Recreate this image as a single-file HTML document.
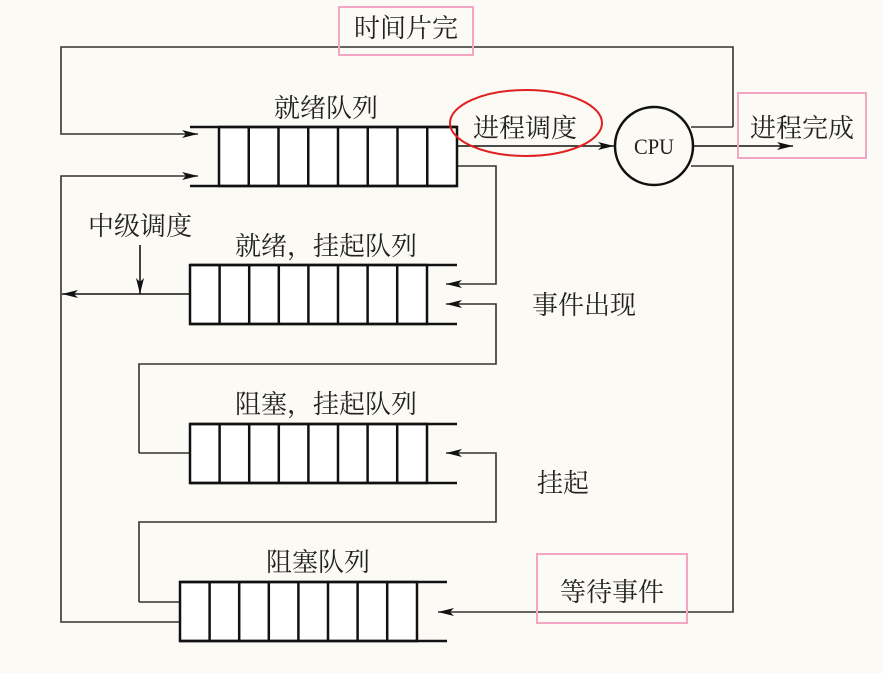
<!DOCTYPE html>
<html><head><meta charset="utf-8"><style>
html,body{margin:0;padding:0;background:#fcfaf5;}
svg{display:block;}
text{font-family:"Liberation Serif","Noto Serif CJK SC",serif;fill:#222;}
</style></head><body>
<svg width="883" height="673" viewBox="0 0 883 673" xmlns="http://www.w3.org/2000/svg">
<defs>
<marker id="ar" viewBox="0 0 16 8" refX="16" refY="4" markerWidth="16" markerHeight="8" markerUnits="userSpaceOnUse" orient="auto">
<path d="M0,0 L16,4 L0,8 L4,4 Z" fill="#111"/>
</marker>
</defs>
<g stroke="#333" stroke-width="1.6" fill="none">
<polyline points="733,127 733,47 61,47 61,134 198,134" marker-end="url(#ar)"/>
<line x1="691" y1="127" x2="733" y2="127"/>
<polyline points="180,622 61,622 61,176 198,176" marker-end="url(#ar)"/>
<polyline points="691,166 733,166 733,612 438,612" marker-end="url(#ar)"/>
<line x1="457" y1="146" x2="614" y2="146" stroke="#111" marker-end="url(#ar)"/>
<line x1="693" y1="146" x2="793" y2="146" stroke="#111" marker-end="url(#ar)"/>
<polyline points="457,166 496,166 496,284 446,284" marker-end="url(#ar)"/>
<polyline points="139,453 139,364 496,364 496,304 446,304" marker-end="url(#ar)"/>
<line x1="139" y1="453" x2="190" y2="453"/>
<polyline points="139,602 139,522 496,522 496,453 446,453" marker-end="url(#ar)"/>
<line x1="139" y1="602" x2="180" y2="602"/>
<polyline points="190,294 62,294" stroke="#111" marker-end="url(#ar)"/>
<line x1="140" y1="245" x2="140" y2="294" stroke="#111" marker-end="url(#ar)"/>
</g>
<g stroke="#111" stroke-width="2.5">
<rect x="219" y="127" width="238" height="59" fill="#fff"/>
<line x1="190" y1="127" x2="457" y2="127"/><line x1="190" y1="186" x2="457" y2="186"/>
<line x1="248.75" y1="127" x2="248.75" y2="186"/><line x1="278.5" y1="127" x2="278.5" y2="186"/><line x1="308.25" y1="127" x2="308.25" y2="186"/><line x1="338" y1="127" x2="338" y2="186"/><line x1="367.75" y1="127" x2="367.75" y2="186"/><line x1="397.5" y1="127" x2="397.5" y2="186"/><line x1="427.25" y1="127" x2="427.25" y2="186"/>
</g>
<g stroke="#111" stroke-width="2.5">
<rect x="190" y="265" width="237" height="59" fill="#fff"/>
<line x1="190" y1="265" x2="457" y2="265"/><line x1="190" y1="324" x2="457" y2="324"/>
<line x1="219.6" y1="265" x2="219.6" y2="324"/><line x1="249.2" y1="265" x2="249.2" y2="324"/><line x1="278.8" y1="265" x2="278.8" y2="324"/><line x1="308.4" y1="265" x2="308.4" y2="324"/><line x1="338" y1="265" x2="338" y2="324"/><line x1="367.6" y1="265" x2="367.6" y2="324"/><line x1="397.2" y1="265" x2="397.2" y2="324"/>
</g>
<g stroke="#111" stroke-width="2.5">
<rect x="190" y="424" width="237" height="59" fill="#fff"/>
<line x1="190" y1="424" x2="457" y2="424"/><line x1="190" y1="483" x2="457" y2="483"/>
<line x1="219.6" y1="424" x2="219.6" y2="483"/><line x1="249.2" y1="424" x2="249.2" y2="483"/><line x1="278.8" y1="424" x2="278.8" y2="483"/><line x1="308.4" y1="424" x2="308.4" y2="483"/><line x1="338" y1="424" x2="338" y2="483"/><line x1="367.6" y1="424" x2="367.6" y2="483"/><line x1="397.2" y1="424" x2="397.2" y2="483"/>
</g>
<g stroke="#111" stroke-width="2.5">
<rect x="180" y="582" width="237" height="59" fill="#fff"/>
<line x1="180" y1="582" x2="447" y2="582"/><line x1="180" y1="641" x2="447" y2="641"/>
<line x1="209.6" y1="582" x2="209.6" y2="641"/><line x1="239.2" y1="582" x2="239.2" y2="641"/><line x1="268.8" y1="582" x2="268.8" y2="641"/><line x1="298.4" y1="582" x2="298.4" y2="641"/><line x1="328" y1="582" x2="328" y2="641"/><line x1="357.6" y1="582" x2="357.6" y2="641"/><line x1="387.2" y1="582" x2="387.2" y2="641"/>
</g>
<circle cx="654" cy="146" r="39" fill="none" stroke="#111" stroke-width="2.5"/>
<text x="654" y="154" font-size="22" text-anchor="middle" textLength="40" lengthAdjust="spacingAndGlyphs">CPU</text>
<ellipse cx="526" cy="123" rx="76" ry="33" fill="none" stroke="#e02020" stroke-width="2"/>
<rect x="339" y="7" width="134" height="48" fill="none" stroke="#f3a6c4" stroke-width="2"/>
<rect x="738" y="93" width="128" height="65" fill="none" stroke="#f3a6c4" stroke-width="2"/>
<rect x="537" y="554" width="150" height="69" fill="none" stroke="#f3a6c4" stroke-width="2"/>
<g font-size="26">
<text x="406" y="37" text-anchor="middle">时间片完</text>
<text x="326" y="117" text-anchor="middle">就绪队列</text>
<text x="525" y="137" text-anchor="middle">进程调度</text>
<text x="802" y="137" text-anchor="middle">进程完成</text>
<text x="140" y="235" text-anchor="middle">中级调度</text>
<text x="326" y="255" text-anchor="middle">就绪，挂起队列</text>
<text x="584" y="314" text-anchor="middle">事件出现</text>
<text x="326" y="413" text-anchor="middle">阻塞，挂起队列</text>
<text x="563" y="492" text-anchor="middle">挂起</text>
<text x="318" y="571" text-anchor="middle">阻塞队列</text>
<text x="612" y="601" text-anchor="middle">等待事件</text>
</g>
</svg>
</body></html>
